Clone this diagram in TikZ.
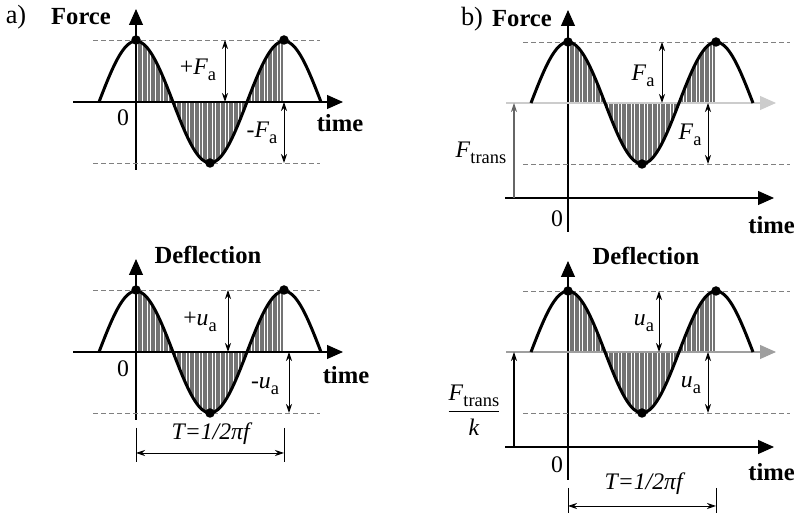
\documentclass[tikz,border=0pt]{standalone}
\usepackage{fontspec}
\setmainfont{Liberation Serif}
\usetikzlibrary{arrows.meta, positioning, calc}

% subscript index, upright and lowered
\newcommand\idx[1]{\raisebox{-0.55ex}{\fontsize{10.5}{11}\selectfont\upshape #1}}
% hatch under one period of the wave (peak at #1, mean line at #2), period 148
\newcommand\fillwave[2]{%
  \foreach \s in {0,2.6,...,148}
    \draw[hatch] ({#1+\s},#2) -- ({#1+\s},{#2-61*cos(2.43243*\s)});
}
\newcommand\drawwave[2]{%
  \draw[wave] plot[domain=-37:185] ({#1+\x},{#2-61*cos(2.43243*\x)});
}

\begin{document}
\begin{tikzpicture}[
    x=0.2mm, y=-0.2mm,
    font=\fontsize{13.5}{15}\selectfont,
    axis/.style={line width=0.6pt, -{Triangle[length=3.2mm, width=2.8mm]}},
    wave/.style={line width=1.7pt, smooth, samples=70},
    hatch/.style={black!55, line width=1.05pt},
    guide/.style={gray, line width=0.5pt, dash pattern=on 0.9mm off 0.7mm},
    dim/.style={line width=0.5pt, {Stealth[length=1.8mm, width=1.2mm]}-{Stealth[length=1.8mm, width=1.2mm]}},
    rise/.style={line width=0.6pt, -{Stealth[length=1.8mm, width=1.2mm]}},
    ext/.style={line width=0.5pt},
    peak/.style={circle, fill=black, inner sep=0pt, minimum size=1.9mm},
    title/.style={font=\fontsize{14}{16}\selectfont\bfseries}
]
\useasboundingbox (0,0) rectangle (797,515);

% ---- a) force
\fillwave{136}{102}
\draw[axis] (136,170) -- (136,9);
\draw[axis] (73,102) -- (343,102);
\draw[guide] (93,40) -- (320,40);
\draw[guide] (93,163) -- (320,163);
\drawwave{136}{102}
\node[peak] (a1p1) at (136,40) {};
\node[peak] (a1p2) at (210,163) {};
\node[peak] (a1p3) at (284,40) {};
\coordinate (a1top) at (225,40);
\coordinate (a1mid) at (225,102);
\coordinate (a1mid2) at (284,102);
\draw[dim] (a1top) -- (a1mid);
\draw[dim] (a1mid2) -- (a1p3 |- a1p2);
\node (a1tag) at (16,17) {\fontsize{15}{16}\selectfont a)};
\node[title] (a1title) at (81,17) {Force};
\node (a1plus) at (198,70) {+\textit{F}\idx{a}};
\node (a1minus) at (262,133) {-\textit{F}\idx{a}};
\node (a1zero) at (123,118) {0};
\node[title] (a1time) at (340,123) {time};

% ---- a) deflection
\fillwave{136}{352}
\draw[axis] (136,420) -- (136,259);
\draw[axis] (73,352) -- (343,352);
\draw[guide] (93,290) -- (320,290);
\draw[guide] (93,413) -- (320,413);
\drawwave{136}{352}
\node[peak] (a2p1) at (136,290) {};
\node[peak] (a2p2) at (210,413) {};
\node[peak] (a2p3) at (284,290) {};
\coordinate (a2top) at (228,290);
\coordinate (a2mid) at (228,352);
\coordinate (a2mid2) at (289,352);
\coordinate (a2bot) at (289,413);
\draw[dim] (a2top) -- (a2mid);
\draw[dim] (a2mid2) -- (a2bot);
\coordinate (a2t0) at (136,428);
\coordinate (a2t1) at (284,428);
\draw[ext] (a2t0) -- ++(0,34);
\draw[ext] (a2t1) -- ++(0,34);
\draw[dim] ($(a2t0)+(0,25)$) -- ($(a2t1)+(0,25)$);
\node[title] (a2title) at (208,255) {Deflection};
\node (a2plus) at (200,322) {+\textit{u}\idx{a}};
\node (a2minus) at (265,386) {-\textit{u}\idx{a}};
\node (a2zero) at (123,369) {0};
\node[title] (a2time) at (346,375) {time};
\node (a2period) at (212,434) {\textit{T=1/2πf}};

% ---- b) force
\fillwave{568}{103}
\draw[axis] (568,232) -- (568,10);
\draw[axis] (505,198) -- (774,198);
\draw[axis, draw=gray!40] (506,103) -- (776,103);
\draw[guide] (523,42) -- (790,42);
\draw[guide] (523,164) -- (790,164);
\drawwave{568}{103}
\node[peak] (b1p1) at (568,42) {};
\node[peak] (b1p2) at (642,164) {};
\node[peak] (b1p3) at (716,42) {};
\coordinate (b1top) at (662,42);
\coordinate (b1mid) at (662,103);
\coordinate (b1mid2) at (708,103);
\coordinate (b1bot) at (708,164);
\coordinate (b1base) at (514,198);
\coordinate (b1lift) at (514,103);
\draw[dim] (b1top) -- (b1mid);
\draw[dim] (b1mid2) -- (b1bot);
\draw[rise, draw=black!60] (b1base) -- (b1lift);
\node (b1tag) at (472,19) {\fontsize{15}{16}\selectfont b)};
\node[title] (b1title) at (522,19) {Force};
\node (b1amp) at (643,76) {\textit{F}\idx{a}};
\node (b1amp2) at (690,135) {\textit{F}\idx{a}};
\node (b1trans) at (481,153) {\textit{F}\idx{trans}};
\node (b1zero) at (557,219) {0};
\node[title, anchor=east, inner sep=1pt] (b1time) at (797,225) {time};

% ---- b) deflection
\fillwave{568}{352}
\draw[axis] (568,480) -- (568,261);
\draw[axis] (505,447) -- (774,447);
\draw[axis, draw=gray!75] (506,352) -- (776,352);
\draw[guide] (523,291) -- (790,291);
\draw[guide] (523,413) -- (790,413);
\drawwave{568}{352}
\node[peak] (b2p1) at (568,291) {};
\node[peak] (b2p2) at (642,413) {};
\node[peak] (b2p3) at (716,291) {};
\coordinate (b2top) at (659,291);
\coordinate (b2mid) at (659,352);
\coordinate (b2mid2) at (708,352);
\coordinate (b2bot) at (708,413);
\coordinate (b2base) at (514,447);
\coordinate (b2lift) at (514,352);
\draw[dim] (b2top) -- (b2mid);
\draw[dim] (b2mid2) -- (b2bot);
\draw[rise] (b2base) -- (b2lift);
\coordinate (b2t0) at (568,488);
\coordinate (b2t1) at (716,488);
\draw[ext] (b2t0) -- ++(0,25);
\draw[ext] (b2t1) -- ++(0,25);
\draw[dim] ($(b2t0)+(0,18)$) -- ($(b2t1)+(0,18)$);
\node[title] (b2title) at (646,256) {Deflection};
\node (b2amp) at (644,323) {\textit{u}\idx{a}};
\node (b2amp2) at (691,385) {\textit{u}\idx{a}};
\node (b2trans) at (474,410) {$\displaystyle\frac{\mbox{\textit{F}\idx{trans}}}{\mbox{\textit{k}}}$};
\node (b2zero) at (557,465) {0};
\node[title, anchor=east, inner sep=1pt] (b2time) at (797,472) {time};
\node (b2period) at (645,484) {\textit{T=1/2πf}};
\end{tikzpicture}
\end{document}
